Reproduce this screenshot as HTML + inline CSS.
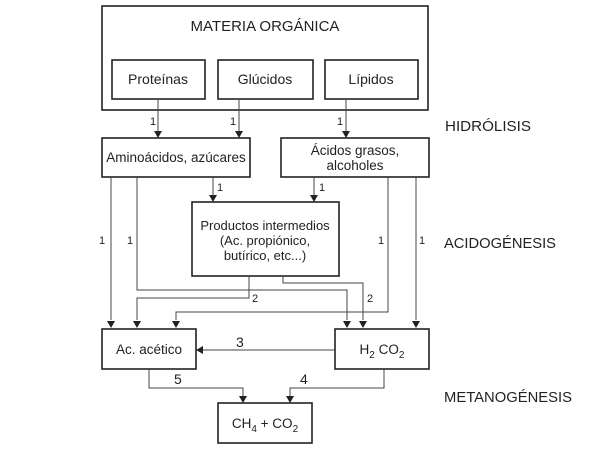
<!DOCTYPE html>
<html><head><meta charset="utf-8"><style>
html,body{margin:0;padding:0;background:#fff;}
svg{display:block;}
text{font-family:"Liberation Sans",sans-serif;fill:#222;}
</style></head><body>
<svg width="600" height="450" viewBox="0 0 600 450" xmlns="http://www.w3.org/2000/svg">
<defs>
<marker id="a" markerWidth="8" markerHeight="8" refX="4" refY="7" orient="auto" markerUnits="userSpaceOnUse">
<path d="M0.5,0 L7.5,0 L4,7 Z" fill="#222" transform="rotate(0)"/>
</marker>
</defs>
<g fill="none" stroke="#222" stroke-width="1.6">
<rect x="102" y="6" width="326" height="104"/>
<rect x="112" y="60" width="93" height="39"/>
<rect x="218" y="60" width="95" height="39"/>
<rect x="325" y="60" width="93" height="39"/>
<rect x="102" y="138" width="148" height="39"/>
<rect x="281" y="138" width="148" height="39"/>
<rect x="192" y="202" width="147" height="74"/>
<rect x="102" y="329" width="94" height="40"/>
<rect x="335" y="329" width="94" height="40"/>
<rect x="218" y="403" width="94" height="40"/>
</g>
<g fill="none" stroke="#444" stroke-width="1">
<line x1="158" y1="99" x2="158" y2="131"/>
<line x1="239" y1="99" x2="239" y2="131"/>
<line x1="346" y1="99" x2="346" y2="131"/>
<line x1="213" y1="177" x2="213" y2="195"/>
<line x1="314" y1="177" x2="314" y2="195"/>
<line x1="111" y1="177" x2="111" y2="320"/>
<polyline points="137,177 137,290 347,290 347,320"/>
<polyline points="249,276 249,298 137,298 137,320"/>
<polyline points="283,276 283,283 363,283 363,320"/>
<polyline points="388,177 388,312 176,312 176,320"/>
<line x1="416" y1="177" x2="416" y2="320"/>
<line x1="335" y1="350" x2="203" y2="350"/>
<polyline points="149,369 149,388 243,388 243,396"/>
<polyline points="384,369 384,388 290,388 290,396"/>
</g>
<g fill="#222">
<path d="M154,131 L162,131 L158,138 Z"/>
<path d="M235,131 L243,131 L239,138 Z"/>
<path d="M342,131 L350,131 L346,138 Z"/>
<path d="M209,195 L217,195 L213,202 Z"/>
<path d="M310,195 L318,195 L314,202 Z"/>
<path d="M107,321 L115,321 L111,328 Z"/>
<path d="M133,321 L141,321 L137,328 Z"/>
<path d="M172,321 L180,321 L176,328 Z"/>
<path d="M343,321 L351,321 L347,328 Z"/>
<path d="M359,321 L367,321 L363,328 Z"/>
<path d="M412,321 L420,321 L416,328 Z"/>
<path d="M203,346 L203,354 L196,350 Z"/>
<path d="M239,396 L247,396 L243,403 Z"/>
<path d="M286,396 L294,396 L290,403 Z"/>
</g>
<g font-size="14" text-anchor="middle">
<text x="265" y="31" font-size="15">MATERIA ORGÁNICA</text>
<text x="158" y="84">Proteínas</text>
<text x="265" y="84">Glúcidos</text>
<text x="371" y="84">Lípidos</text>
<text x="176" y="162" font-size="13.5">Aminoácidos, azúcares</text>
<text x="355" y="155" font-size="13.5">Ácidos grasos,</text>
<text x="355" y="170" font-size="13.5">alcoholes</text>
<text x="265" y="230" font-size="13">Productos intermedios</text>
<text x="265" y="245" font-size="13">(Ac. propiónico,</text>
<text x="265" y="260" font-size="13">butírico, etc...)</text>
<text x="149" y="354" font-size="13.5">Ac. acético</text>
<text x="382" y="354" font-size="13.5">H<tspan font-size="10" dy="4">2</tspan><tspan dy="-4"> CO</tspan><tspan font-size="10" dy="4">2</tspan></text>
<text x="265" y="428" font-size="13.5">CH<tspan font-size="10" dy="4">4</tspan><tspan dy="-4"> + CO</tspan><tspan font-size="10" dy="4">2</tspan></text>
</g>
<g font-size="11">
<text x="150" y="125">1</text>
<text x="230" y="125">1</text>
<text x="337" y="125">1</text>
<text x="217" y="191">1</text>
<text x="319" y="191">1</text>
<text x="99" y="244">1</text>
<text x="127" y="244">1</text>
<text x="378" y="244">1</text>
<text x="419" y="244">1</text>
<text x="252" y="302">2</text>
<text x="367" y="302">2</text>
<text x="236" y="347" font-size="14">3</text>
<text x="174" y="384" font-size="14">5</text>
<text x="300" y="384" font-size="14">4</text>
</g>
<g font-size="15">
<text x="445" y="131" textLength="86" lengthAdjust="spacingAndGlyphs">HIDRÓLISIS</text>
<text x="444" y="248" textLength="112" lengthAdjust="spacingAndGlyphs">ACIDOGÉNESIS</text>
<text x="444" y="402" textLength="128" lengthAdjust="spacingAndGlyphs">METANOGÉNESIS</text>
</g>
</svg>
</body></html>
